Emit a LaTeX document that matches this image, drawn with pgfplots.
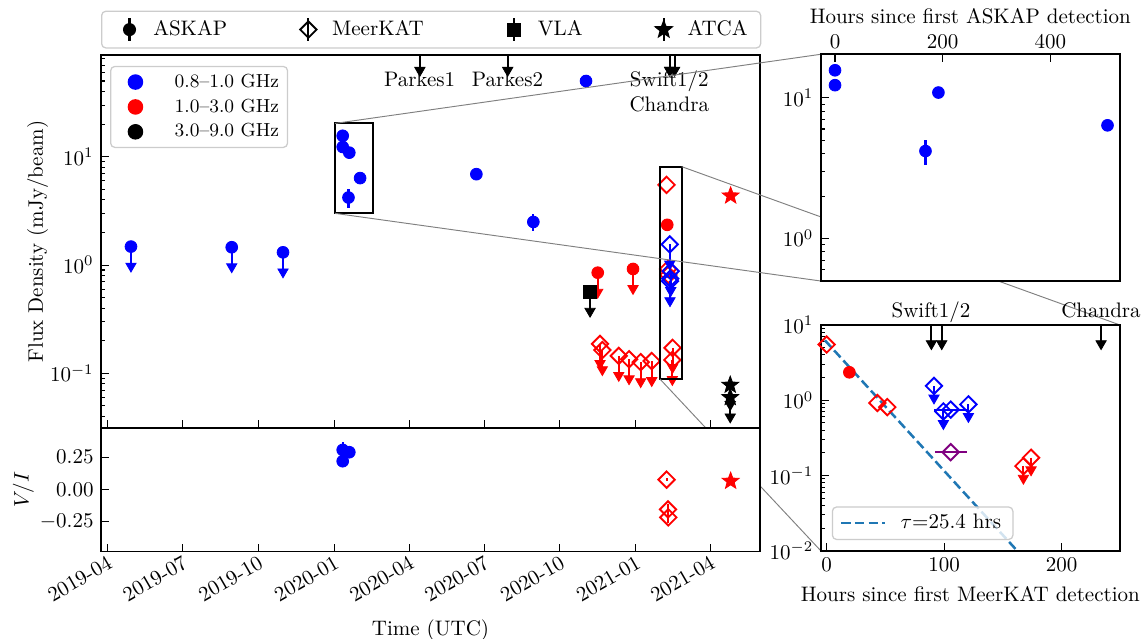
\documentclass[border=0pt]{standalone}
\usepackage{pgfplots}
\pgfplotsset{compat=1.18}
\definecolor{c0}{HTML}{1F77B4}
\definecolor{mpurple}{RGB}{128,0,128}
\pgfdeclareplotmark{fstar}{%
  \pgfpathmoveto{\pgfpointpolar{90}{\pgfplotmarksize}}%
  \pgfpathlineto{\pgfpointpolar{126}{0.42*\pgfplotmarksize}}%
  \pgfpathlineto{\pgfpointpolar{162}{\pgfplotmarksize}}%
  \pgfpathlineto{\pgfpointpolar{198}{0.42*\pgfplotmarksize}}%
  \pgfpathlineto{\pgfpointpolar{234}{\pgfplotmarksize}}%
  \pgfpathlineto{\pgfpointpolar{270}{0.42*\pgfplotmarksize}}%
  \pgfpathlineto{\pgfpointpolar{306}{\pgfplotmarksize}}%
  \pgfpathlineto{\pgfpointpolar{342}{0.42*\pgfplotmarksize}}%
  \pgfpathlineto{\pgfpointpolar{18}{\pgfplotmarksize}}%
  \pgfpathlineto{\pgfpointpolar{54}{0.42*\pgfplotmarksize}}%
  \pgfpathclose
  \pgfusepathqfillstroke
}
\pgfplotsset{
  every axis/.append style={
    scale only axis, anchor=south west,
    tick align=inside, tick pos=left,
    major tick length=3.8pt, minor tick length=2pt,
    tick style={black, line width=0.5pt},
    axis line style={line width=0.8pt},
    clip mode=individual,
    legend cell align=left,
  },
  eb/.style={error bars/y dir=both, error bars/y explicit, error bars/error bar style={line width=1pt}, error bars/error mark=none},
  xeb/.style={error bars/x dir=both, error bars/x explicit, error bars/error bar style={line width=1pt}, error bars/error mark=none},
  ul/.style={error bars/y dir=minus, error bars/y explicit relative, error bars/error bar style={line width=1pt}, error bars/error mark=triangle*, error bars/error mark options={rotate=-90, mark size=2.8pt}},
  circ/.style={only marks, mark=*, mark size=2.8pt},
  dia/.style={only marks, mark=square, mark size=2.75pt, mark options={rotate=45, line width=0.9pt}},
  sq/.style={only marks, mark=square*, mark size=3pt},
  st/.style={only marks, mark=fstar, mark size=4.2pt},
  nomark/.style={only marks, mark=*, mark size=0.01pt},
  lgbox/.style={draw=black!20, rounded corners=2pt, fill=white, line width=0.6pt},
}
\begin{document}
\begin{tikzpicture}
\useasboundingbox (0,0) rectangle (545.5pt,-304.16pt);
\coordinate (i1tl) at (390.65pt,-25.85pt);
\coordinate (i1bl) at (390.65pt,-133.76pt);
\coordinate (i2tr) at (533.12pt,-154.70pt);
\coordinate (i2bl) at (390.65pt,-262.13pt);

% ---------------- main panel ----------------
\begin{axis}[
  at={(48.08pt,-203.73pt)}, width=313.68pt, height=177.55pt,
  xmin=-7.64, xmax=791.6, ymode=log, ymin=0.0313, ymax=86.9,
  xtick={0,91,183,275,366,457,549,641,731}, xticklabels={},
  ylabel={Flux Density (mJy/beam)}, ylabel shift=-6pt,
  legend style={lgbox, font=\small, at={(0.0137,0.971)}, anchor=north west, inner xsep=2pt, inner ysep=1.5pt,
    /tikz/every odd column/.append style={column sep=6.9pt}},
]
% ASKAP 0.8-1.0 GHz detections
\addplot[blue, circ, eb, forget plot] coordinates {
 (285.5,15.6) +- (0,0.4)
 (285.5,12.3) +- (0,0.4)
 (293.5,10.9) +- (0,0.3)
 (292.5,4.2) +- (0,0.85)
 (306.6,6.35) +- (0,0.3)
 (447.6,6.9) +- (0,0.3)
 (516.7,2.5) +- (0,0.45)
 (580.6,50) +- (0,7)
};
% ASKAP 0.8-1.0 GHz upper limits
\addplot[blue, circ, ul, forget plot] coordinates {
 (28.7,1.48) -= (0,0.36)
 (150.9,1.46) -= (0,0.36)
 (213.1,1.31) -= (0,0.36)
};
% ASKAP 1.0-3.0 GHz
\addplot[red, circ, forget plot] coordinates {(679.1,2.35)};
\addplot[red, circ, ul, forget plot] coordinates {
 (594.8,0.85) -= (0,0.36)
 (637.6,0.92) -= (0,0.36)
};
% VLA
\addplot[black, sq, ul, forget plot] coordinates {(585.5,0.567) -= (0,0.36)};
% MeerKAT 1.0-3.0 GHz detections
\addplot[red, dia, forget plot] coordinates {(678.3,5.5) (680.1,0.92) (680.45,0.81)};
% MeerKAT 1.0-3.0 GHz upper limits
\addplot[red, dia, ul, forget plot] coordinates {
 (597.6,0.187) -= (0,0.36)
 (600.4,0.164) -= (0,0.36)
 (620.3,0.145) -= (0,0.36)
 (632.8,0.135) -= (0,0.36)
 (646.9,0.127) -= (0,0.36)
 (660.3,0.130) -= (0,0.36)
 (685.3,0.133) -= (0,0.36)
 (685.55,0.172) -= (0,0.36)
};
% MeerKAT 0.8-1.0 GHz
\addplot[blue, dia, ul, forget plot] coordinates {
 (682.1,1.55) -= (0,0.36)
 (682.44,0.71) -= (0,0.36)
 (683.3,0.88) -= (0,0.36)
};
\addplot[blue, dia, forget plot] coordinates {(682.7,0.75)};
% ATCA
\addplot[red, st, forget plot] coordinates {(756,4.36)};
\addplot[black, st, ul, forget plot] coordinates {
 (755.5,0.078) -= (0,0.36)
 (755.5,0.060) -= (0,0.36)
};
% Parkes / Swift / Chandra epochs
\addplot[black, nomark, ul, forget plot] coordinates {
 (379.1,86.9) -= (0,0.30)
 (485.6,86.9) -= (0,0.30)
 (682.0,86.9) -= (0,0.30)
 (682.4,86.9) -= (0,0.30)
 (688.0,86.9) -= (0,0.30)
};
\node[anchor=base] at (axis cs:378.7,44.3) {Parkes1};
\node[anchor=base] at (axis cs:485.4,44.3) {Parkes2};
\node[anchor=base] at (axis cs:681.6,44.3) {Swift1/2};
\node[anchor=base] at (axis cs:681.6,26.0) {Chandra};
% zoom boxes
\draw[line width=1pt] (axis cs:276.2,3.0) rectangle (axis cs:321.9,20.3);
\draw[line width=1pt] (axis cs:670.3,0.0886) rectangle (axis cs:696.6,8.1);
\coordinate (b1tl) at (axis cs:276.2,20.3);
\coordinate (b1bl) at (axis cs:276.2,3.0);
\coordinate (b2tr) at (axis cs:696.6,8.1);
\coordinate (b2bl) at (axis cs:670.3,0.0886);
% frequency legend
\addlegendimage{legend image code/.code={\path[blue] plot[mark=*, mark size=3.4pt] coordinates {(9.5pt,0cm)}; \path (0pt,0cm) (19pt,0cm);}}
\addlegendentry{0.8--1.0 GHz}
\addlegendimage{legend image code/.code={\path[red] plot[mark=*, mark size=3.4pt] coordinates {(9.5pt,0cm)}; \path (0pt,0cm) (19pt,0cm);}}
\addlegendentry{1.0--3.0 GHz}
\addlegendimage{legend image code/.code={\path[black] plot[mark=*, mark size=3.4pt] coordinates {(9.5pt,0cm)}; \path (0pt,0cm) (19pt,0cm);}}
\addlegendentry{3.0--9.0 GHz}
\end{axis}

% connector lines
\draw[black!50, line width=0.45pt] (b1tl) -- (i1tl);
\draw[black!50, line width=0.45pt] (b1bl) -- (i1bl);
\draw[black!50, line width=0.45pt] (b2tr) -- (i2tr);
\draw[black!50, line width=0.45pt] (b2bl) -- (i2bl);

% ---------------- V/I panel ----------------
\begin{axis}[
  at={(48.08pt,-262.51pt)}, width=313.68pt, height=58.79pt,
  xmin=-7.64, xmax=791.6, ymin=-0.485, ymax=0.478,
  axis background/.style={fill=white},
  xtick={0,91,183,275,366,457,549,641,731},
  xticklabels={2019-04,2019-07,2019-10,2020-01,2020-04,2020-07,2020-10,2021-01,2021-04},
  xticklabel style={rotate=30, anchor=north east, inner sep=1pt},
  ytick={-0.25,0,0.25},
  yticklabel style={/pgf/number format/fixed, /pgf/number format/fixed zerofill, /pgf/number format/precision=2},
  xlabel={Time (UTC)}, xlabel shift=3pt,
  ylabel={$V/I$}, ylabel shift=-4pt,
  legend columns=4,
  legend style={lgbox, at={(0,4.379)}, anchor=north west, inner xsep=4.2pt, inner ysep=2.4pt,
    /tikz/every odd column/.append style={column sep=4.75pt},
    /tikz/column 2/.style={column sep=32.1pt},
    /tikz/column 4/.style={column sep=36.4pt},
    /tikz/column 6/.style={column sep=32.1pt}},
]
\addplot[blue, circ, eb, forget plot] coordinates {
 (285.5,0.307) +- (0,0.06)
 (285.5,0.219) +- (0,0.03)
 (293.5,0.289) +- (0,0.03)
};
\addplot[red, dia, eb, forget plot] coordinates {
 (678.3,0.075) +- (0,0.012)
 (680.1,-0.157) +- (0,0.045)
 (680.45,-0.219) +- (0,0.045)
};
\addplot[red, st, forget plot] coordinates {(756,0.064)};
% instrument legend
\addlegendimage{legend image code/.code={\draw[black, line width=1pt] (0.15cm,-0.19cm) -- (0.15cm,0.19cm); \path[black] plot[mark=*, mark size=2.8pt] coordinates {(0.15cm,0cm)}; \path (-4.5pt,0cm) (0.3cm,0cm);}}
\addlegendentry{ASKAP}
\addlegendimage{legend image code/.code={\draw[black, line width=1pt] (0.15cm,-0.19cm) -- (0.15cm,0.19cm); \path[black] plot[mark=square, mark size=2.75pt, mark options={rotate=45, line width=0.9pt}] coordinates {(0.15cm,0cm)}; \path (0cm,0cm) (0.3cm,0cm);}}
\addlegendentry{MeerKAT}
\addlegendimage{legend image code/.code={\draw[black, line width=1pt] (0.15cm,-0.19cm) -- (0.15cm,0.19cm); \path[black] plot[mark=square*, mark size=3pt] coordinates {(0.15cm,0cm)}; \path (0cm,0cm) (0.3cm,0cm);}}
\addlegendentry{VLA}
\addlegendimage{legend image code/.code={\draw[black, line width=1pt] (0.15cm,-0.19cm) -- (0.15cm,0.19cm); \path[black] plot[mark=fstar, mark size=4.2pt] coordinates {(0.15cm,0cm)}; \path (0cm,0cm) (0.3cm,0cm);}}
\addlegendentry{ATCA}
\end{axis}

% ---------------- top inset (ASKAP) ----------------
\begin{axis}[
  at={(390.65pt,-133.76pt)}, width=142.47pt, height=107.91pt,
  xmin=-26.6, xmax=529.2, ymode=log, ymin=0.497, ymax=20.4,
  axis background/.style={fill=white},
  xtick={0,200,400}, xtick pos=right, xticklabel pos=right,
  xticklabel style={yshift=-1pt},
  xlabel={Hours since first ASKAP detection}, xlabel style={yshift=-1.2pt},
]
\addplot[blue, circ, eb, forget plot] coordinates {
 (0,15.7) +- (0,0.4)
 (0,12.3) +- (0,0.4)
 (168,4.18) +- (0,0.83)
 (192,10.9) +- (0,0.4)
 (506,6.37) +- (0,0.3)
};
\end{axis}

% ---------------- bottom inset (MeerKAT) ----------------
\begin{axis}[
  at={(390.65pt,-262.13pt)}, width=142.47pt, height=107.43pt,
  xmin=-5.1, xmax=249.6, ymode=log, ymin=0.01, ymax=10,
  axis background/.style={fill=white},
  xtick={0,100,200},
  xlabel={Hours since first MeerKAT detection},
  legend style={lgbox, fill opacity=0.8, text opacity=1, at={(0.037,0.047)}, anchor=south west,
    inner xsep=3.6pt, inner ysep=1.5pt,
    /tikz/every odd column/.append style={column sep=4.7pt}},
]
\addplot[c0, line width=1.2pt, dash pattern=on 4.5pt off 2pt, mark=none, forget plot] coordinates {(-1.5,6.26) (165,0.0089)};
\addplot[red, dia, forget plot] coordinates {(0,5.5) (43.1,0.92) (51.6,0.81)};
\addplot[red, circ, forget plot] coordinates {(19.3,2.35)};
\addplot[blue, dia, ul, forget plot] coordinates {
 (91.3,1.55) -= (0,0.34)
 (99.3,0.71) -= (0,0.34)
 (120.6,0.88) -= (0,0.34)
};
\addplot[blue, dia, xeb, forget plot] coordinates {(105.5,0.75) +- (14,0)};
\addplot[mpurple, dia, xeb, forget plot] coordinates {(105.5,0.204) +- (13.5,0)};
\addplot[red, dia, ul, forget plot] coordinates {
 (167.4,0.133) -= (0,0.34)
 (173.9,0.172) -= (0,0.34)
};
\addplot[black, nomark, ul, forget plot] coordinates {
 (89.1,10) -= (0,0.46)
 (97.9,10) -= (0,0.46)
 (233.5,10) -= (0,0.46)
};
\node[anchor=base] at (rel axis cs:0.3685,1.033) {Swift1/2};
\node[anchor=base] at (rel axis cs:0.9365,1.033) {Chandra};
\addlegendimage{legend image code/.code={\draw[c0, line width=1.2pt, dash pattern=on 4.5pt off 2pt] (0pt,0pt) -- (21pt,0pt);}}
\addlegendentry{$\tau$=25.4 hrs}
\end{axis}
\end{tikzpicture}
\end{document}
